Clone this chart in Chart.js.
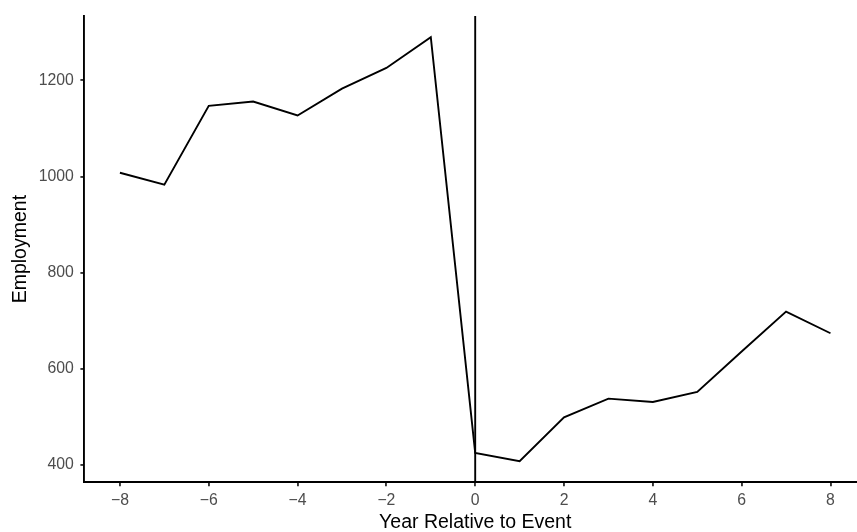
<!DOCTYPE html>
<html>
<head>
<meta charset="utf-8">
<script src="https://cdn.jsdelivr.net/npm/chart.js@4/dist/chart.umd.min.js"></script>
<style>
  html, body { margin: 0; padding: 0; background: #fff; overflow: hidden; }
  canvas { display: block; }
</style>
</head>
<body>
<!-- canvas is a little wider than the window: the panel runs off the right edge like the original -->
<canvas id="chart" width="866" height="532"></canvas>
<script>
// data
const YEARS = [-8, -7, -6, -5, -4, -3, -2, -1, 0, 1, 2, 3, 4, 5, 6, 7, 8];
const EMPLOYMENT = [1008, 983, 1147, 1156, 1127, 1183, 1226, 1290, 425, 408, 499, 538, 531, 552, 636, 719, 674];
const EVENT_YEAR = 0;
const X_TICKS = [-8, -6, -4, -2, 0, 2, 4, 6, 8];
const Y_TICKS = [400, 600, 800, 1000, 1200];

/*******************************************************
 * ggplot style 5% expansion of the data range
 *******************************************************/
function expand(lo, hi) {
  const pad = (hi - lo) * 0.05;
  return [lo - pad, hi + pad];
}

const [xMin, xMax] = expand(Math.min(...YEARS), Math.max(...YEARS));
const [yMin, yMax] = expand(Math.min(...EMPLOYMENT), Math.max(...EMPLOYMENT));

const FONT = "'Liberation Sans', Arial, Helvetica, sans-serif";

function fmtTick(v) {
  return v < 0 ? '\u2212' + Math.abs(v) : String(v);
}

const axisBase = {
  type: 'linear',
  grid: {
    drawOnChartArea: false,
    drawTicks: true,
    tickLength: 4,
    tickColor: '#333333',
    lineWidth: 1.9
  },
  border: { display: true, color: '#000', width: 1.9 },
};

const ctx = document.getElementById('chart').getContext('2d');
new Chart(ctx, {
  type: 'line',
  data: {
    datasets: [
      {
        label: 'Employment',
        data: YEARS.map((yr, i) => ({ x: yr, y: EMPLOYMENT[i] })),
        borderColor: '#000',
        borderWidth: 1.9,
        pointRadius: 0,
        tension: 0,
        fill: false
      },
      {
        label: 'event',
        data: [{ x: EVENT_YEAR, y: yMin }, { x: EVENT_YEAR, y: yMax }],
        borderColor: '#000',
        borderWidth: 1.9,
        pointRadius: 0,
        fill: false
      }
    ]
  },
  options: {
    responsive: false,
    animation: false,
    devicePixelRatio: 1,
    layout: { padding: { top: 15, right: 0, bottom: 0, left: 0 } },
    plugins: { legend: { display: false }, tooltip: { enabled: false } },
    scales: {
      x: {
        ...axisBase,
        min: xMin,
        max: xMax,
        afterBuildTicks: axis => { axis.ticks = X_TICKS.map(v => ({ value: v })); },
        afterFit: axis => { axis.height = 49.7; },
        ticks: {
          color: '#4d4d4d',
          font: { family: FONT, size: 15.8 },
          padding: 4.5,
          maxRotation: 0,
          autoSkip: false,
          callback: v => fmtTick(v)
        },
        title: {
          display: true,
          text: 'Year Relative to Event',
          color: '#000',
          font: { family: FONT, size: 19.5, lineHeight: 1 },
          padding: { top: 0, bottom: 0 }
        }
      },
      y: {
        ...axisBase,
        min: yMin,
        max: yMax,
        afterBuildTicks: axis => { axis.ticks = Y_TICKS.map(v => ({ value: v })); },
        afterFit: axis => { axis.width = 84.4; },
        ticks: {
          color: '#4d4d4d',
          font: { family: FONT, size: 15.8 },
          padding: 6.5,
          autoSkip: false,
          callback: v => fmtTick(v)
        },
        title: {
          display: true,
          text: 'Employment',
          color: '#000',
          font: { family: FONT, size: 19.5, lineHeight: 1 },
          padding: { top: 10.7, bottom: 0 }
        }
      }
    }
  }
});
</script>
</body>
</html>
